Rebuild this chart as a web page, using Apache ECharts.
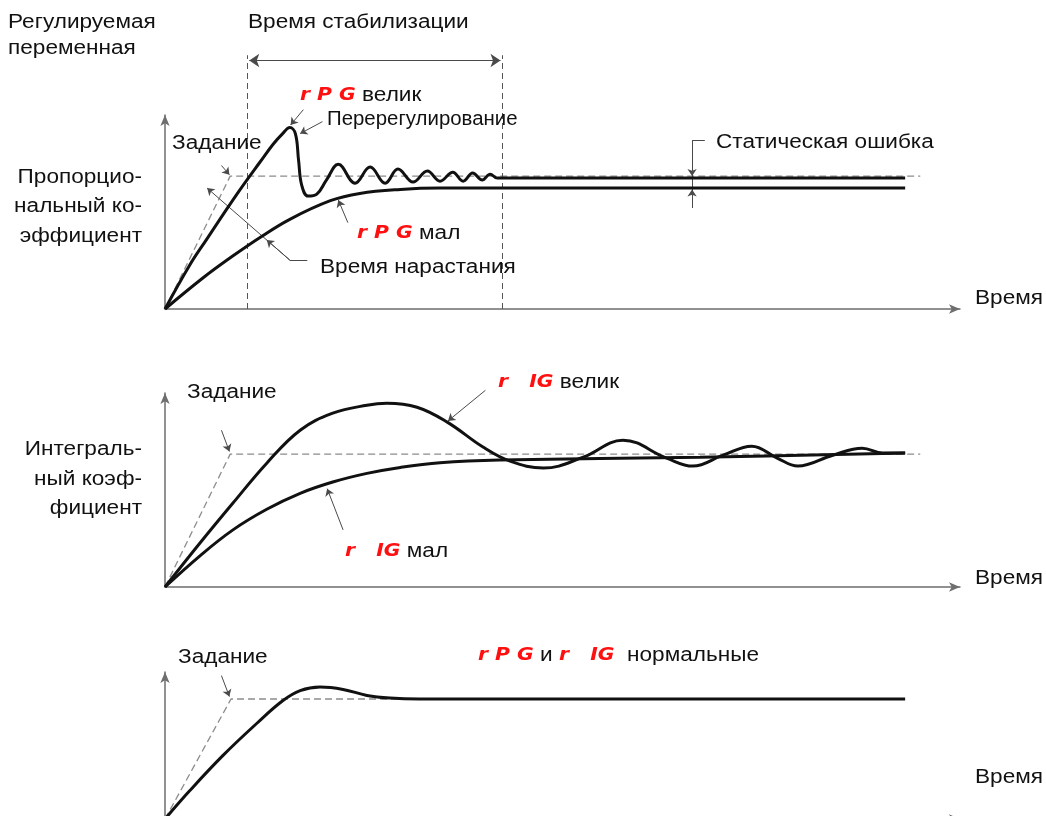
<!DOCTYPE html>
<html>
<head>
<meta charset="utf-8">
<script src="https://cdn.jsdelivr.net/npm/echarts@6/dist/echarts.min.js"></script>
<style>
html,body{margin:0;padding:0;background:#fff}
#chart{width:1046px;height:816px}
</style>
</head>
<body>
<div id="chart"></div>
<script>
// time runs 0..100 on every panel, value is relative to the setpoint (=1)

// panel 1 - proportional gain
var setTime1 = [0, 8.2, 95];
var setValue1 = [0, 1, 1];
var bigPTime = [0, 3.1, 5.3, 7.3, 9.4, 12.0, 13.6, 14.8, 15.7, 16.4, 16.8, 17.2, 18.0, 19.1, 20.3, 21.8, 23.9, 25.8, 27.7, 29.3, 31.2, 33.0, 34.6, 36.2, 37.5, 38.7, 39.9, 40.9, 41.8, 50, 93.1];
var bigPValue = [0, 0.33, 0.53, 0.71, 0.895, 1.11, 1.24, 1.32, 1.365, 1.32, 1.12, 0.93, 0.85, 0.865, 0.97, 1.09, 0.947, 1.068, 0.947, 1.053, 0.955, 1.038, 0.962, 1.030, 0.962, 1.023, 0.970, 1.015, 0.985, 0.985, 0.985];
var smallPTime = [0, 4.8, 8.2, 12.0, 15.7, 20.8, 24.5, 29.6, 34.6, 93.1];
var smallPValue = [0, 0.235, 0.385, 0.54, 0.675, 0.815, 0.87, 0.90, 0.91, 0.91];
var settleStart = 10.4, settleEnd = 42.4;
var staticErrTime = 66.3;

// panel 2 - integral gain
var setTime2 = [0, 8.2, 95];
var setValue2 = [0, 1, 1];
var bigITime = [0, 4.4, 8.55, 12.8, 17.0, 21.1, 25.4, 27.9, 31.7, 35.5, 40.0, 43.4, 47.6, 52.6, 57.6, 63.1, 66.4, 70.2, 73.8, 77.0, 79.6, 84.0, 87.7, 90.3, 93.1];
var bigIValue = [0, 0.331, 0.632, 0.932, 1.180, 1.308, 1.368, 1.383, 1.353, 1.241, 1.053, 0.947, 0.895, 0.977, 1.105, 0.970, 0.910, 0.992, 1.060, 0.970, 0.910, 0.992, 1.045, 1.008, 1.008];
var smallITime = [0, 4.4, 8.55, 12.8, 17.0, 21.1, 25.4, 29.6, 34.6, 42.1, 67.3, 93.1];
var smallIValue = [0, 0.235, 0.43, 0.585, 0.705, 0.79, 0.855, 0.90, 0.935, 0.955, 0.977, 1.008];

// panel 3 - normal tuning
var setTime3 = [0, 8.3, 93.1];
var setValue3 = [0, 1, 1];
var normTime = [0, 3.1, 7.3, 11.6, 14.8, 17.0, 19.5, 22.4, 25.4, 28.3, 32, 93.1];
var normValue = [0, 0.235, 0.53, 0.80, 0.985, 1.07, 1.10, 1.08, 1.03, 1.008, 1.0, 1.0];

var yMax = [1.46, 1.46, 1.225];

function zip(t, v) {
    return t.map(function (x, i) { return [x, v[i]]; });
}

var chart = echarts.init(document.getElementById('chart'));

var axisColor = '#6e6e6e';
var font = '"Liberation Sans", Arial, sans-serif';
var segFont = 'italic bold 18px "DejaVu Sans", sans-serif';

var grids = [
    {left: 165, top: 115, width: 795, height: 194, outerBoundsMode: 'none'},
    {left: 165, top: 393, width: 795, height: 194, outerBoundsMode: 'none'},
    {left: 165, top: 672, width: 795, height: 147, outerBoundsMode: 'none'}
];

var xAxes = [], yAxes = [];
for (var i = 0; i < 3; i++) {
    xAxes.push({
        type: 'value', gridIndex: i, min: 0, max: 100,
        axisLine: {show: true, symbol: ['none', 'arrow'], symbolSize: [7, 11], lineStyle: {color: axisColor, width: 1.5}},
        axisTick: {show: false}, axisLabel: {show: false}, splitLine: {show: false}
    });
    yAxes.push({
        type: 'value', gridIndex: i, min: 0, max: yMax[i],
        axisLine: {show: true, onZero: false, symbol: ['none', 'arrow'], symbolSize: [7, 11], lineStyle: {color: axisColor, width: 1.5}},
        axisTick: {show: false}, axisLabel: {show: false}, splitLine: {show: false}
    });
}

function curve(i, t, v) {
    return {
        type: 'line', xAxisIndex: i, yAxisIndex: i, data: zip(t, v),
        smooth: 0.4, symbol: 'none', clip: false, z: 4,
        lineStyle: {color: '#111', width: 3}
    };
}
function setpoint(i, t, v) {
    return {
        type: 'line', xAxisIndex: i, yAxisIndex: i, data: zip(t, v),
        symbol: 'none', clip: false, z: 2,
        lineStyle: {color: '#8c8c8c', width: 1.3, type: [7, 4]}
    };
}
// leader lines / pointers
function pointers(i, segs, style) {
    return {
        type: 'lines', coordinateSystem: 'cartesian2d', xAxisIndex: i, yAxisIndex: i,
        clip: false, z: 3, symbolSize: 7,
        lineStyle: style || {color: '#4a4a4a', width: 1, opacity: 1, curveness: 0},
        data: segs.map(function (s) {
            var d = {coords: s[0], symbol: s[1] || ['none', 'none']};
            if (s[2]) d.symbolSize = s[2];
            return d;
        })
    };
}
var arrowEnd = ['none', 'arrow'];

var p1Pointers = [
    [[[7.1, 1.08], [8.1, 1.01]], arrowEnd],
    [[[17.4, 1.50], [15.8, 1.385]], arrowEnd],
    [[[19.8, 1.41], [17.0, 1.32]], arrowEnd],
    [[[23.0, 0.65], [21.8, 0.82]], arrowEnd],
    [[[17.9, 0.368], [15.7, 0.368]]],
    [[[15.7, 0.368], [5.3, 0.91]], arrowEnd],
    [[[15.7, 0.368], [12.8, 0.519]], arrowEnd],
    [[[staticErrTime, 1.27], [staticErrTime, 0.76]]],
    [[[staticErrTime, 1.27], [staticErrTime + 1.6, 1.27]]],
    [[[staticErrTime, 1.2], [staticErrTime, 1.0]], arrowEnd],
    [[[staticErrTime, 0.78], [staticErrTime, 0.90]], arrowEnd],
    [[[settleStart + 0.2, 1.87], [settleEnd - 0.2, 1.87]], ['arrow', 'arrow'], 10]
];
var p1Settle = [
    [[[settleStart, 0], [settleStart, 1.91]]],
    [[[settleEnd, 0], [settleEnd, 1.91]]]
];
var p2Pointers = [
    [[[7.1, 1.18], [8.1, 1.02]], arrowEnd],
    [[[40.3, 1.48], [35.6, 1.25]], arrowEnd],
    [[[22.4, 0.43], [20.4, 0.74]], arrowEnd]
];
var p3Pointers = [
    [[[7.1, 1.195], [8.1, 1.02]], arrowEnd]
];

var series = [
    setpoint(0, setTime1, setValue1),
    curve(0, bigPTime, bigPValue),
    curve(0, smallPTime, smallPValue),
    pointers(0, p1Pointers),
    pointers(0, p1Settle, {color: '#555', width: 1, opacity: 1, type: [6, 4]}),
    setpoint(1, setTime2, setValue2),
    curve(1, bigITime, bigIValue),
    curve(1, smallITime, smallIValue),
    pointers(1, p2Pointers),
    setpoint(2, setTime3, setValue3),
    curve(2, normTime, normValue),
    pointers(2, p3Pointers)
];

// texts
function txt(x, y, text, align, sx) {
    return {
        type: 'text', x: x, y: y, scaleX: sx || 1.13, z: 10,
        style: {
            text: text, fill: '#111', font: '20px ' + font,
            align: align || 'left', verticalAlign: 'middle',
            rich: {s: {fill: '#ff1010', font: segFont}}
        }
    };
}

var texts = [
    txt(8, 22, 'Регулируемая'),
    txt(8, 48, 'переменная'),
    txt(248, 22, 'Время стабилизации'),
    txt(142, 177, 'Пропорцио-', 'right'),
    txt(142, 206, 'нальный ко-', 'right'),
    txt(142, 236, 'эффициент', 'right'),
    txt(172, 143, 'Задание'),
    txt(300, 95, '{s|r P G} велик'),
    txt(327, 119, 'Перерегулирование', 'left', 1.02),
    txt(357, 233, '{s|r P G} мал'),
    txt(320, 267, 'Время нарастания'),
    txt(716, 142, 'Статическая ошибка'),
    txt(975, 298, 'Время'),
    txt(142, 449, 'Интеграль-', 'right'),
    txt(142, 479, 'ный коэф-', 'right'),
    txt(142, 508, 'фициент', 'right'),
    txt(187, 392, 'Задание'),
    txt(498, 382, '{s|r   IG} велик'),
    txt(345, 551, '{s|r   IG} мал'),
    txt(975, 578, 'Время'),
    txt(178, 657, 'Задание'),
    txt(478, 655, '{s|r P G} и {s|r   IG}  нормальные'),
    txt(975, 777, 'Время')
];

chart.setOption({
    animation: false,
    backgroundColor: '#fff',
    grid: grids,
    xAxis: xAxes,
    yAxis: yAxes,
    series: series,
    graphic: texts
});
</script>
</body>
</html>
